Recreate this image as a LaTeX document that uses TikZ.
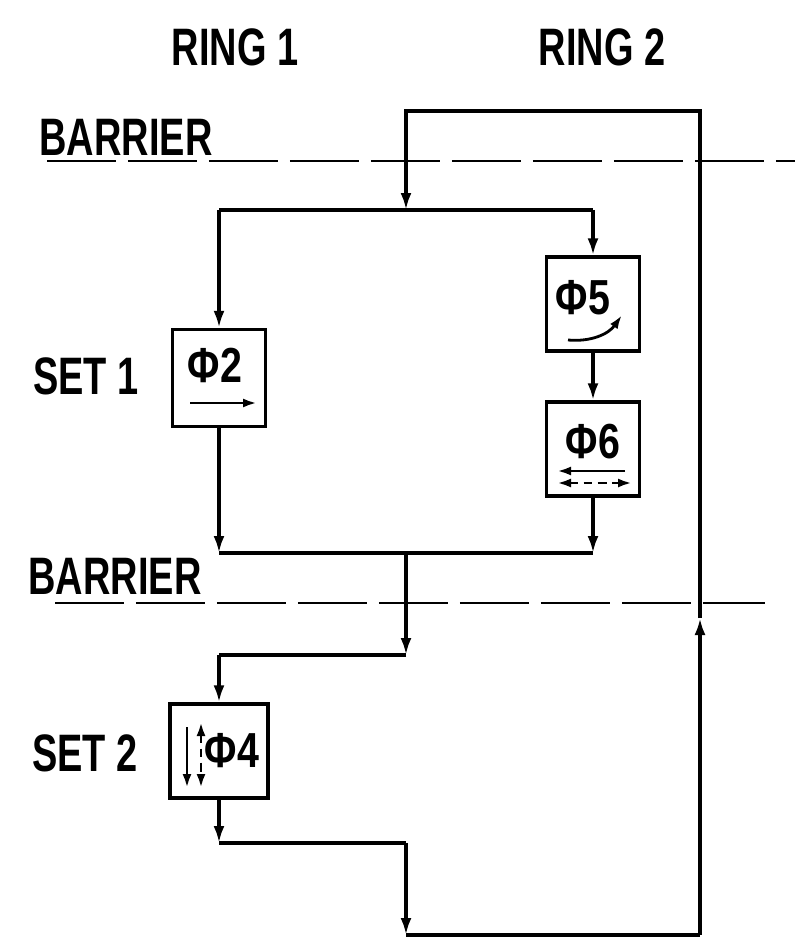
\documentclass[tikz,border=0pt]{standalone}
\usepackage{fontspec}
\newfontfamily\handfont[FakeStretch=0.72]{Liberation Sans}
\newfontfamily\phifont[FakeStretch=0.8]{Liberation Sans}
\usetikzlibrary{positioning,calc,arrows.meta}

\begin{document}
\begin{tikzpicture}[x=0.02cm,y=0.02cm,line width=1.9pt,
      lbl/.style={font=\handfont\bfseries\fontsize{30}{30}\selectfont,inner sep=0pt},
      opbox/.style={draw,minimum width=1.86cm,minimum height=1.88cm,inner sep=0pt},
      optext/.style={font=\phifont\bfseries\fontsize{28}{28}\selectfont,inner sep=0pt},
      flow/.style={-{Latex[length=3.4mm,width=2.2mm]}},
      sym/.style={line width=1.6pt,-{Latex[length=2.8mm,width=1.8mm]}},
      dsym/.style={line width=1.6pt,dash pattern=on 5pt off 3pt,{Latex[length=2.8mm,width=1.8mm]}-{Latex[length=2.8mm,width=1.8mm]}},
      barrier/.style={line width=1.6pt,dash pattern=on 1.38cm off 0.24cm}]
    \useasboundingbox (0,0) rectangle (795,-952);
    % headings and side labels
    \node[lbl] (ring1) at (235,-47) {RING 1};
    \node[lbl] (ring2) at (602,-47) {RING 2};
    \node[lbl] (bar1) at (126,-137) {BARRIER};
    \node[lbl] (bar2) at (115,-576) {BARRIER};
    \node[lbl] (set1) at (86,-376) {SET 1};
    \node[lbl] (set2) at (85,-753) {SET 2};
    % barriers
    \coordinate (b1w) at (47,-161); \coordinate (b1e) at (795,-161);
    \coordinate (b2w) at (55,-603); \coordinate (b2e) at (765,-603);
    \draw[barrier] (b1w) -- (b1e);
    \draw[barrier] (b2w) -- (b2e);
    % phases
    \node[opbox,minimum height=1.94cm] (phi2) at (219,-378) {};
    \node[opbox] (phi5) at (593,-304) {};
    \node[opbox] (phi6) at (593,-449) {};
    \node[opbox,minimum width=1.96cm] (phi4) at (219,-751) {};
    \node[optext] (t2) at ($(phi2)+(-4,13)$) {Φ2};
    \draw[sym] ($(phi2)+(-29,-25)$) -- ($(phi2)+(38,-25)$);
    \node[optext] (t5) at ($(phi5)+(-10,6)$) {Φ5};
    \draw[sym] ($(phi5)+(-25,-36)$) to[bend right=30] ($(phi5)+(29,-11)$);
    \node[optext] (t6) at ($(phi6)+(0,7)$) {Φ6};
    \draw[sym] ($(phi6)+(32,-22)$) -- ($(phi6)+(-36,-22)$);
    \draw[dsym] ($(phi6)+(-36,-34)$) -- ($(phi6)+(39,-34)$);
    \node[optext] (t4) at ($(phi4)+(13,0)$) {Φ4};
    \draw[sym] ($(phi4)+(-32,24)$) -- ($(phi4)+(-32,-37)$);
    \draw[dsym] ($(phi4)+(-18,29)$) -- ($(phi4)+(-18,-37)$);
    % junctions
    \coordinate (top1) at (406,-111); \coordinate (top2) at (700,-111);
    \coordinate (split1) at (406,-210);
    \coordinate (sl) at (219,-210); \coordinate (sr) at (593,-210);
    \coordinate (jl) at (219,-553); \coordinate (jr) at (593,-553);
    \coordinate (join1) at (406,-553);
    \coordinate (split2) at (406,-655); \coordinate (s2l) at (219,-655);
    \coordinate (j2l) at (219,-843); \coordinate (j2m) at (406,-843);
    \coordinate (bot1) at (406,-935); \coordinate (bot2) at (700,-935);
    \coordinate (upmark) at (700,-618);
    % flow
    \draw[flow] (bot2) -- (upmark);
    \draw[flow] (upmark) -- (top2) -- (top1) -- (split1);
    \draw (sl) -- (sr);
    \draw[flow] (sl) -- (phi2);
    \draw[flow] (sr) -- (phi5);
    \draw[flow] (phi5) -- (phi6);
    \draw[flow] (phi2) -- (jl);
    \draw[flow] (phi6) -- (jr);
    \draw (jl) -- (jr);
    \draw[flow] (join1) -- (split2);
    \draw (split2) -- (s2l);
    \draw[flow] (s2l) -- (phi4);
    \draw[flow] (phi4) -- (j2l);
    \draw (j2l) -- (j2m);
    \draw[flow] (j2m) -- (bot1);
    \draw (bot1) -- (bot2);
  \end{tikzpicture}
\end{document}
